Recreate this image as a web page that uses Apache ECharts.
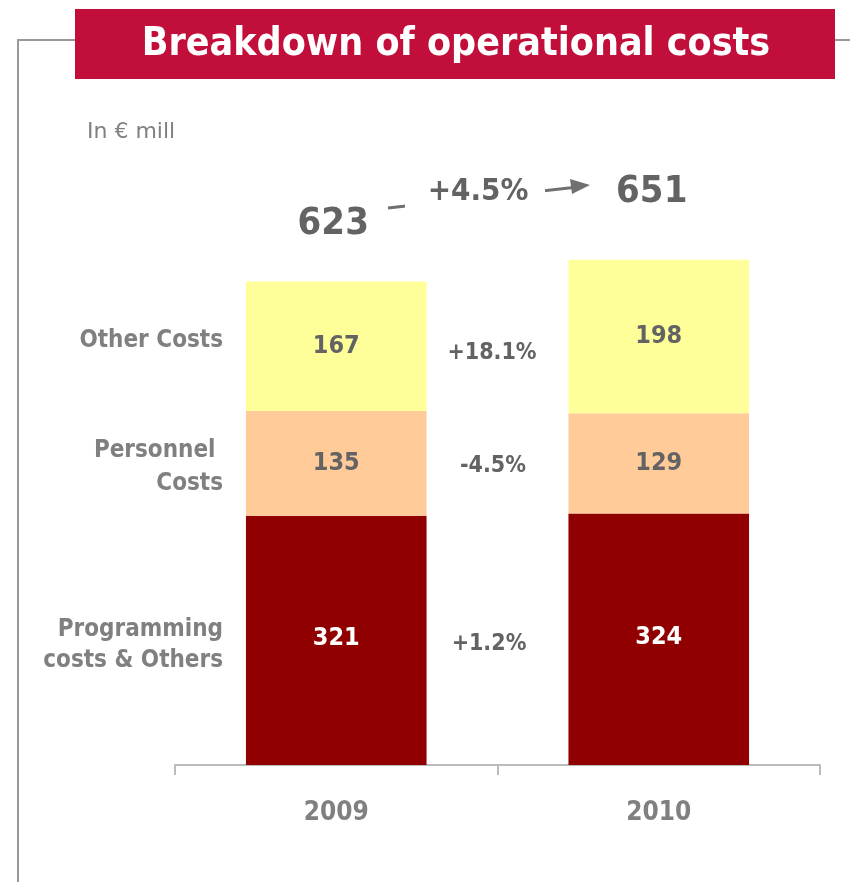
<!DOCTYPE html>
<html>
<head>
<meta charset="utf-8">
<script src="https://cdn.jsdelivr.net/npm/echarts@6/dist/echarts.min.js"></script>
<style>
  html, body { margin: 0; padding: 0; background: #fff; }
  #chart { width: 850px; height: 882px; }
</style>
</head>
<body>
<div id="chart"></div>
<script>
  const years = ['2009', '2010']
  const programming = [321, 324]
  const personnel = [135, 129]
  const other = [167, 198]
  const totals = [623, 651]
  const changes = ['+18.1%', '-4.5%', '+1.2%']
  const totalChange = '+4.5%'

  const FONT = '"DejaVu Sans Condensed", "DejaVu Sans", sans-serif'
  const GREY = '#808080'
  const DARK = '#636363'

  let myChart = echarts.init(document.getElementById('chart'))

  // total label over the top segment, offsets tuned per bar
  const totalLabel = [
    { distance: 38, offset: [-3, 0] },
    { distance: 49, offset: [-7, 0] }
  ]

  let option = {
    animation: false,
    grid: { left: 175, right: 30, top: 144, bottom: 117 },
    xAxis: {
      type: 'category',
      data: years,
      axisLine: { lineStyle: { color: '#bbbbbb', width: 2 } },
      axisTick: { show: true, length: 10, lineStyle: { color: '#bbbbbb', width: 2 } },
      axisLabel: { color: GREY, fontSize: 26, fontWeight: 'bold', fontFamily: FONT, margin: 35 }
    },
    yAxis: {
      type: 'value', min: 0, max: 800, show: false,
      splitLine: { show: false }
    },
    series: [
      {
        name: 'Programming costs & Others', type: 'bar', stack: 'c', barWidth: '56%',
        itemStyle: { color: '#900000' },
        label: { show: true, position: 'inside', color: '#fff', fontSize: 25, fontWeight: 'bold', fontFamily: FONT, offset: [0, -2] },
        data: programming
      },
      {
        name: 'Personnel Costs', type: 'bar', stack: 'c',
        itemStyle: { color: '#FFCC99' },
        label: { show: true, position: 'inside', color: DARK, fontSize: 25, fontWeight: 'bold', fontFamily: FONT },
        data: personnel
      },
      {
        name: 'Other Costs', type: 'bar', stack: 'c',
        itemStyle: { color: '#FFFF99' },
        label: { show: true, position: 'inside', color: DARK, fontSize: 25, fontWeight: 'bold', fontFamily: FONT },
        data: other
      },
      {
        // invisible zero-height bar carrying the totals
        name: 'Total', type: 'bar', stack: 'c',
        itemStyle: { color: 'transparent' },
        data: totals.map((t, i) => ({
          value: 0,
          label: {
            show: true, position: 'top', formatter: String(t),
            distance: totalLabel[i].distance, offset: totalLabel[i].offset,
            color: DARK, fontSize: 38, fontWeight: 'bold', fontFamily: FONT
          }
        }))
      }
    ],
    graphic: [
      // frame
      { type: 'polyline', shape: { points: [[75, 40], [18, 40], [18, 882]] }, style: { stroke: '#999', lineWidth: 2, fill: null } },
      { type: 'line', shape: { x1: 835, y1: 40, x2: 850, y2: 40 }, style: { stroke: '#999', lineWidth: 2 } },
      // title box
      { type: 'rect', shape: { x: 75, y: 9, width: 760, height: 70 }, style: { fill: '#C20E3B' } },
      { type: 'text', x: 456, y: 45, style: { text: 'Breakdown of operational costs', fill: '#fff', font: 'bold 39px ' + FONT, textAlign: 'center', textVerticalAlign: 'middle' } },
      { type: 'text', x: 87, y: 132, style: { text: 'In € mill', fill: GREY, font: '22px "DejaVu Sans", sans-serif', textVerticalAlign: 'middle' } },
      // growth arrow
      { type: 'line', shape: { x1: 388, y1: 208, x2: 578, y2: 187 }, style: { stroke: '#707070', lineWidth: 3 } },
      { type: 'polygon', shape: { points: [[590, 185], [570, 179], [572, 194]] }, style: { fill: '#707070' } },
      { type: 'rect', shape: { x: 405, y: 170, width: 140, height: 45 }, style: { fill: '#fff' } },
      { type: 'text', x: 478, y: 192, style: { text: totalChange, fill: DARK, font: 'bold 31px ' + FONT, textAlign: 'center', textVerticalAlign: 'middle' } },
      // segment changes
      { type: 'text', x: 492, y: 353, style: { text: changes[0], fill: DARK, font: 'bold 23px ' + FONT, textAlign: 'center', textVerticalAlign: 'middle' } },
      { type: 'text', x: 493, y: 466, style: { text: changes[1], fill: DARK, font: 'bold 23px ' + FONT, textAlign: 'center', textVerticalAlign: 'middle' } },
      { type: 'text', x: 489, y: 644, style: { text: changes[2], fill: DARK, font: 'bold 23px ' + FONT, textAlign: 'center', textVerticalAlign: 'middle' } },
      // row names
      { type: 'text', x: 223, y: 341, style: { text: 'Other Costs', fill: GREY, font: 'bold 24px ' + FONT, textAlign: 'right', textVerticalAlign: 'middle' } },
      { type: 'text', x: 223, y: 467, style: { text: 'Personnel \nCosts', fill: GREY, font: 'bold 24px ' + FONT, textAlign: 'right', textVerticalAlign: 'middle', lineHeight: 33 } },
      { type: 'text', x: 223, y: 645, style: { text: 'Programming\ncosts & Others', fill: GREY, font: 'bold 24px ' + FONT, textAlign: 'right', textVerticalAlign: 'middle', lineHeight: 31 } }
    ]
  }

  myChart.setOption(option)
  window.onresize = function () {
    myChart.resize()
  }
</script>
</body>
</html>
